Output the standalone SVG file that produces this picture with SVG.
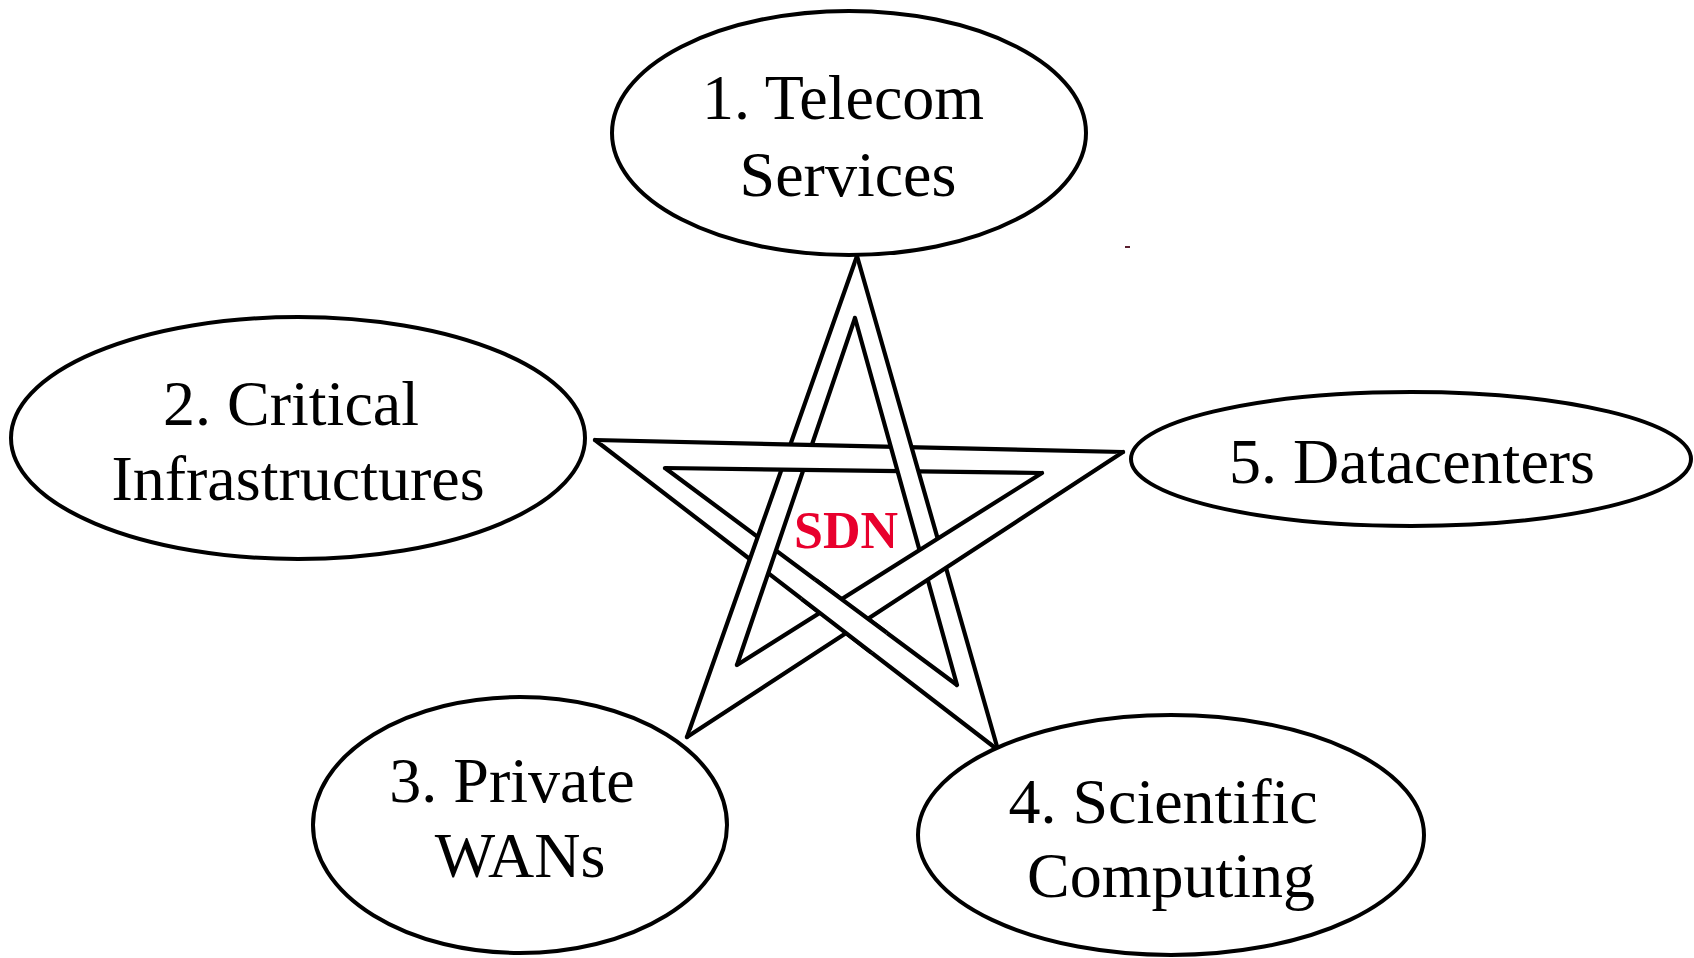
<svg xmlns="http://www.w3.org/2000/svg" width="1694" height="958" viewBox="0 0 1694 958">
<style>
.bg{fill:#ffffff}
.node ellipse{fill:#ffffff;stroke:#000000;stroke-width:4}
.lbl{font-family:"Liberation Serif","Times New Roman",serif;font-size:64px;fill:#000000;text-anchor:middle}
.bandfill{fill:#ffffff;stroke:none}
.edge{stroke:#000000;stroke-width:4.2;stroke-linecap:round;fill:none}
.sdn{font-family:"Liberation Serif","Times New Roman",serif;font-size:52px;font-weight:bold;fill:#e8002d;text-anchor:middle}
</style>
<defs>
<clipPath id="cross-EB"><circle cx="844" cy="616" r="46"/></clipPath>
<g id="bandE">
<polygon class="bandfill" points="998,750 595,440 665,468 957,685"/>
<line class="edge" x1="998" y1="750" x2="595" y2="440"/>
<line class="edge" x1="957" y1="685" x2="665" y2="468"/>
</g>
</defs>
<rect class="bg" x="0" y="0" width="1694" height="958"/>

<g id="connectors"></g>

<g id="sdn-star">
<use href="#bandE"/>
<g id="bandC">
<polygon class="bandfill" points="687,737 857,256 855,318 737,665"/>
<line class="edge" x1="687" y1="737" x2="857" y2="256"/>
<line class="edge" x1="737" y1="665" x2="855" y2="318"/>
</g>
<g id="bandA">
<polygon class="bandfill" points="595,440 1123,452 1042,473 665,468"/>
<line class="edge" x1="595" y1="440" x2="1123" y2="452"/>
<line class="edge" x1="665" y1="468" x2="1042" y2="473"/>
</g>
<g id="bandD">
<polygon class="bandfill" points="857,256 998,750 957,685 855,318"/>
<line class="edge" x1="857" y1="256" x2="998" y2="750"/>
<line class="edge" x1="855" y1="318" x2="957" y2="685"/>
</g>
<g id="bandB">
<polygon class="bandfill" points="1123,452 687,737 737,665 1042,473"/>
<line class="edge" x1="1123" y1="452" x2="687" y2="737"/>
<line class="edge" x1="1042" y1="473" x2="737" y2="665"/>
</g>
<use href="#bandE" clip-path="url(#cross-EB)"/>
<text class="sdn" x="846" y="548">SDN</text>
</g>

<g id="node1" class="node">
<ellipse cx="849" cy="133" rx="237" ry="122"/>
<text class="lbl" x="843" y="119">1. Telecom</text>
<text class="lbl" x="848" y="196">Services</text>
</g>

<g id="node2" class="node">
<ellipse cx="298" cy="438" rx="287" ry="121"/>
<text class="lbl" x="291" y="425">2. Critical</text>
<text class="lbl" x="298" y="500">Infrastructures</text>
</g>

<g id="node3" class="node">
<ellipse cx="520" cy="825" rx="207" ry="128"/>
<text class="lbl" x="512" y="802">3. Private</text>
<text class="lbl" x="520" y="877">WANs</text>
</g>

<g id="node4" class="node">
<ellipse cx="1171" cy="835" rx="253" ry="120"/>
<text class="lbl" x="1163" y="823">4. Scientific</text>
<text class="lbl" x="1171" y="897">Computing</text>
</g>

<g id="node5" class="node">
<ellipse cx="1411" cy="459" rx="280" ry="67"/>
<text class="lbl" x="1412" y="483">5. Datacenters</text>
</g>

<rect x="1125" y="246" width="5" height="2" fill="#5a2030"/>
</svg>
